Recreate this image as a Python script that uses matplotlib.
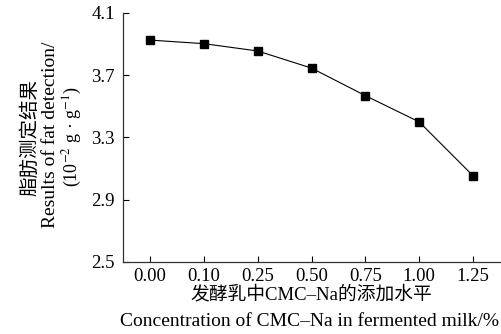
import matplotlib
matplotlib.use('Agg')
import matplotlib.pyplot as plt

plt.rcParams['font.family'] = ['Liberation Serif', 'Noto Sans CJK SC']
plt.rcParams['mathtext.fontset'] = 'stix'

# Data
levels = ['0.00', '0.10', '0.25', '0.50', '0.75', '1.00', '1.25']
fat = [3.926, 3.903, 3.856, 3.746, 3.569, 3.400, 3.054]
yticks = [2.5, 2.9, 3.3, 3.7, 4.1]

fig = plt.figure(figsize=(5.02, 3.34), dpi=100)
ax = fig.add_axes([123 / 502, 1 - 262 / 334, 377 / 502, 249 / 334])

x = list(range(len(levels)))
ax.plot(x, fat, color='black', lw=0.8, marker='s', ms=6, mfc='black', mec='black')

ax.set_xlim(-0.5, 6.5)
ax.set_ylim(2.5, 4.1)
ax.set_xticks(x)
ax.set_xticklabels(levels)
ax.set_yticks(yticks)
ax.set_yticklabels([f'{v:.1f}' for v in yticks])
ax.tick_params(direction='in', length=4, width=0.8, labelsize=13.5)
ax.tick_params(axis='x', pad=4)
ax.tick_params(axis='y', pad=6)

for s in ['top', 'right']:
    ax.spines[s].set_visible(False)
for s in ['left', 'bottom']:
    ax.spines[s].set_linewidth(0.9)
    ax.spines[s].set_color('#333333')

fig.text(311 / 502, 1 - 295 / 334, '发酵乳中CMC–Na的添加水平', ha='center', va='center',
         fontsize=13.5, fontweight='light')
fig.text(310 / 502, 1 - 321 / 334, 'Concentration of CMC–Na in fermented milk/%', ha='center', va='center',
         fontsize=14)

fig.text(30 / 502, 1 - 137 / 334, '脂肪测定结果', rotation=90, ha='center', va='center',
         fontsize=14, fontweight='light')
fig.text(51 / 502, 1 - 135 / 334, 'Results of fat detection/', rotation=90, ha='center', va='center', fontsize=14)
fig.text(72 / 502, 1 - 137 / 334, r'(10$^{-2}$ g · g$^{-1}$)', rotation=90, ha='center', va='center', fontsize=13)

fig.savefig('out.png', dpi=100)
